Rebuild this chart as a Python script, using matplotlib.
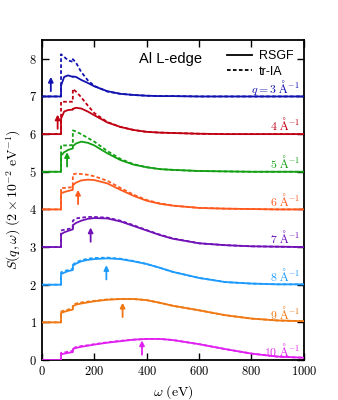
import numpy as np
import matplotlib
matplotlib.use("Agg")
import matplotlib.pyplot as plt

plt.rcParams['mathtext.fontset'] = 'cm'
plt.rcParams['font.family'] = ['Liberation Sans', 'DejaVu Sans']

# energy grid (eV); repeated points are the L3 and L1 edges
w = [0, 73, 73, 85, 100, 118, 118, 130, 150, 175, 200, 250, 300, 350,
     400, 450, 500, 600, 700, 800, 900, 1000]

qs = [3, 4, 5, 6, 7, 8, 9, 10]
offsets = [7, 6, 5, 4, 3, 2, 1, 0]
colors = ['#1212B0', '#C00012', '#14A014', '#FF5A1E', '#7012B8',
          '#1E9BFF', '#F07812', '#E020F0']
compton = [34, 60, 96, 138, 186, 246, 308, 382]  # arrow positions (eV)

rsgf = {
    3: [0, 0, 0.29, 0.52, 0.56, 0.52, 0.53, 0.52, 0.44, 0.36, 0.27, 0.14, 0.07, 0.04, 0.02, 0.01, 0.01, 0, 0, 0, 0, 0],
    4: [0, 0, 0.41, 0.60, 0.64, 0.65, 0.67, 0.70, 0.68, 0.60, 0.50, 0.31, 0.19, 0.11, 0.06, 0.04, 0.03, 0.01, 0, 0, 0, 0],
    5: [0, 0, 0.43, 0.52, 0.58, 0.62, 0.68, 0.75, 0.80, 0.77, 0.70, 0.49, 0.31, 0.19, 0.12, 0.07, 0.05, 0.02, 0.01, 0, 0, 0],
    6: [0, 0, 0.43, 0.46, 0.49, 0.52, 0.64, 0.71, 0.77, 0.79, 0.78, 0.69, 0.52, 0.36, 0.23, 0.15, 0.10, 0.04, 0.02, 0.01, 0, 0],
    7: [0, 0, 0.34, 0.39, 0.43, 0.47, 0.58, 0.64, 0.70, 0.75, 0.77, 0.76, 0.68, 0.56, 0.44, 0.32, 0.22, 0.10, 0.05, 0.02, 0.01, 0],
    8: [0, 0, 0.28, 0.32, 0.36, 0.39, 0.50, 0.56, 0.62, 0.66, 0.68, 0.70, 0.68, 0.62, 0.55, 0.45, 0.34, 0.18, 0.07, 0.03, 0.01, 0.01],
    9: [0, 0, 0.25, 0.28, 0.31, 0.34, 0.43, 0.47, 0.50, 0.53, 0.56, 0.60, 0.62, 0.62, 0.59, 0.52, 0.44, 0.32, 0.19, 0.10, 0.05, 0.03],
    10: [0, 0, 0.15, 0.17, 0.19, 0.21, 0.29, 0.32, 0.35, 0.38, 0.41, 0.46, 0.50, 0.54, 0.56, 0.56, 0.53, 0.42, 0.29, 0.17, 0.09, 0.06],
}
tria = {
    3: [0, 0, 1.12, 1.05, 0.96, 0.92, 0.99, 0.90, 0.65, 0.43, 0.28, 0.13, 0.07, 0.04, 0.02, 0.01, 0.01, 0, 0, 0, 0, 0],
    4: [0, 0, 0.86, 0.86, 0.86, 0.86, 1.20, 1.13, 0.98, 0.76, 0.56, 0.32, 0.19, 0.11, 0.06, 0.04, 0.03, 0.01, 0, 0, 0, 0],
    5: [0, 0, 0.70, 0.70, 0.70, 0.71, 1.10, 1.07, 1.00, 0.90, 0.80, 0.55, 0.34, 0.20, 0.12, 0.07, 0.05, 0.02, 0.01, 0, 0, 0],
    6: [0, 0, 0.57, 0.57, 0.58, 0.59, 0.93, 0.95, 0.94, 0.92, 0.88, 0.76, 0.57, 0.39, 0.25, 0.16, 0.10, 0.04, 0.02, 0.01, 0, 0],
    7: [0, 0, 0.44, 0.46, 0.48, 0.50, 0.70, 0.76, 0.78, 0.80, 0.80, 0.78, 0.70, 0.58, 0.45, 0.33, 0.23, 0.10, 0.05, 0.02, 0.01, 0],
    8: [0, 0, 0.33, 0.36, 0.39, 0.42, 0.53, 0.59, 0.65, 0.69, 0.71, 0.72, 0.69, 0.63, 0.55, 0.45, 0.34, 0.18, 0.07, 0.03, 0.01, 0.01],
    9: [0, 0, 0.29, 0.31, 0.34, 0.37, 0.46, 0.50, 0.53, 0.55, 0.57, 0.61, 0.62, 0.62, 0.59, 0.52, 0.44, 0.32, 0.19, 0.10, 0.05, 0.03],
    10: [0, 0, 0.19, 0.20, 0.22, 0.24, 0.31, 0.34, 0.37, 0.39, 0.42, 0.47, 0.51, 0.54, 0.56, 0.56, 0.53, 0.42, 0.29, 0.17, 0.09, 0.06],
}

fig = plt.figure(figsize=(3.38, 4.0), dpi=100)
ax = fig.add_axes([0.124, 0.1, 0.775, 0.8])

for q, off, c, wc in zip(qs, offsets, colors, compton):
    ax.plot(w, np.array(rsgf[q]) + off, color=c, lw=1.3, zorder=3)
    ax.plot(w, np.array(tria[q]) + off, color=c, lw=1.3,
            linestyle=(0, (2.0, 1.3)), zorder=2)
    ax.annotate('', xy=(wc, off + 0.52), xytext=(wc, off + 0.14),
                arrowprops=dict(arrowstyle='-|>', color=c, lw=1.3,
                                mutation_scale=7, shrinkA=0, shrinkB=0))
    if q == 3:
        lab = r'$q = 3\ \mathrm{Å}^{-1}$'
    else:
        lab = r'$%d\ \mathrm{Å}^{-1}$' % q
    ax.text(985, off + 0.1, lab, color=c, ha='right', va='baseline',
            fontsize=8.5)

ax.plot([], [], color='k', lw=1.3, label='RSGF')
ax.plot([], [], color='k', lw=1.3, linestyle=(0, (2.0, 1.3)), label='tr-IA')
ax.legend(loc='upper right', bbox_to_anchor=(1.0, 1.0), frameon=False,
          fontsize=9, handlelength=2.0, borderaxespad=0.4, labelspacing=0.3,
          handletextpad=0.6)

ax.text(490, 8.0, 'Al L-edge', ha='center', va='center', fontsize=10.5)

ax.set_xlim(0, 1000)
ax.set_ylim(0, 8.5)
ax.set_xticks([0, 200, 400, 600, 800, 1000])
ax.set_yticks(range(9))
ax.set_xticklabels([r'$%d$' % v for v in [0, 200, 400, 600, 800, 1000]])
ax.set_yticklabels([r'$%d$' % v for v in range(9)])
ax.tick_params(direction='in', top=True, right=True, length=5, width=1,
               labelsize=9)
for s in ax.spines.values():
    s.set_linewidth(1.3)

ax.set_xlabel(r'$\omega\ \mathrm{(eV)}$', fontsize=10)
ax.set_ylabel(r'$S(q,\omega)\ (2\times10^{-2}\ \mathrm{eV}^{-1})$', fontsize=10)

fig.savefig('out.png', dpi=100)
